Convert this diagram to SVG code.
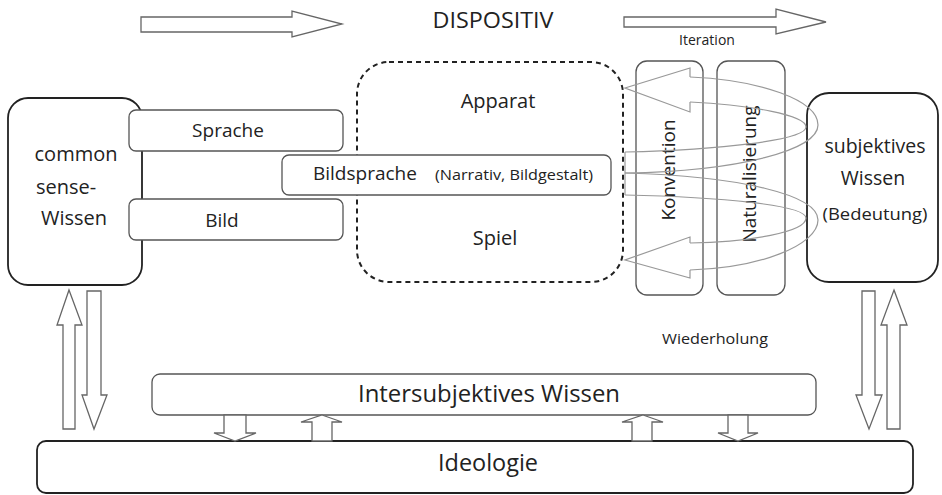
<svg xmlns="http://www.w3.org/2000/svg" width="942" height="495" viewBox="0 0 942 495">
<style>
text{font-family:"Open Sans","Noto Sans","Liberation Sans",sans-serif;fill:#222}
.box{fill:#fff;stroke:#555;stroke-width:1.3}
.dark{fill:#fff;stroke:#222;stroke-width:1.8}
.blk{fill:#fff;stroke:#666;stroke-width:1.3}
.loop{fill:none;stroke:#999;stroke-width:1.2}
</style>
<rect width="942" height="495" fill="#fff"/>
<g id="connectors">
<polygon class="blk" points="141,17 292,17 292,11 342,24 292,37 292,32 141,32"/>
<polygon class="blk" points="624,17 776,17 776,9 826,22 776,34 776,27 624,27"/>
<polygon class="blk" points="69,290 82,325 75,325 75,429 63,429 63,325 57,325"/>
<polygon class="blk" points="87,291 101,291 101,395 107,395 94,429 82,395 87,395"/>
<polygon class="blk" points="862,291 875,291 875,395 882,395 869,429 856,395 862,395"/>
<polygon class="blk" points="894,290 907,325 900,325 900,429 887,429 887,325 881,325"/>
</g>
<g id="commonsense">
<rect class="dark" x="8" y="98" width="134" height="187" rx="20"/>
<text x="76" y="161" font-size="20" text-anchor="middle">common</text>
<text x="36" y="194" font-size="20">sense-</text>
<text x="74" y="225" font-size="20" text-anchor="middle">Wissen</text>
</g>
<g id="dispositiv-box">
<rect x="357" y="62" width="266" height="220" rx="32" fill="none" stroke="#222" stroke-width="2" stroke-dasharray="5,4"/>
<text x="498" y="108" font-size="20" text-anchor="middle">Apparat</text>
<text x="495" y="245" font-size="20" text-anchor="middle">Spiel</text>
</g>
<g id="sprache">
<rect class="box" x="129" y="110" width="214" height="41" rx="7"/>
<text x="228" y="137" font-size="19" text-anchor="middle">Sprache</text>
</g>
<g id="bild">
<rect class="box" x="129" y="199" width="214" height="41" rx="7"/>
<text x="222" y="227" font-size="19" text-anchor="middle">Bild</text>
</g>
<g id="bildsprache">
<rect class="box" x="282" y="155" width="329" height="40" rx="7"/>
<text x="313" y="180" font-size="19">Bildsprache</text>
<text x="435" y="180" font-size="15" textLength="158" lengthAdjust="spacingAndGlyphs">(Narrativ, Bildgestalt)</text>
</g>
<g id="konvention">
<rect class="box" x="636" y="61" width="67" height="234" rx="11"/>
<text transform="translate(675,170) rotate(-90)" font-size="19" text-anchor="middle">Konvention</text>
</g>
<g id="naturalisierung">
<rect class="box" x="717" y="61" width="68" height="234" rx="11"/>
<text transform="translate(756,174) rotate(-90)" font-size="19" text-anchor="middle">Naturalisierung</text>
</g>
<g id="subjektiv">
<rect class="dark" x="807" y="93" width="131" height="189" rx="22"/>
<text x="875" y="153" font-size="19.5" text-anchor="middle">subjektives</text>
<text x="873" y="185" font-size="19.5" text-anchor="middle">Wissen</text>
<text x="875" y="220" font-size="17" text-anchor="middle" textLength="105" lengthAdjust="spacingAndGlyphs">(Bedeutung)</text>
</g>
<g id="loops">
<path class="loop" d="M690,77 L690,68 L625,88 L690,112 L690,102"/>
<path class="loop" d="M690,243 L690,237 L625,260 L690,278 L690,270"/>
<path class="loop" d="M690,77 C760,80 818,100 818,125 C818,150 740,171 625,173"/>
<path class="loop" d="M690,102 C750,105 806,115 806,127 C806,140 720,150 625,152"/>
<path class="loop" d="M625,195 C720,197 806,205 806,218 C806,232 750,242 690,243"/>
<path class="loop" d="M625,173 C740,176 818,195 818,220 C818,245 760,268 690,270"/>
<path class="loop" d="M625,152 L625,195"/>
</g>
<g id="labels">
<text x="493" y="28" font-size="22.5" text-anchor="middle" textLength="121" lengthAdjust="spacingAndGlyphs">DISPOSITIV</text>
<text x="707" y="45" font-size="14" text-anchor="middle">Iteration</text>
<text x="715" y="344" font-size="15" text-anchor="middle" textLength="106" lengthAdjust="spacingAndGlyphs">Wiederholung</text>
</g>
<g id="intersubjektiv">
<rect class="box" x="152" y="374" width="664" height="41" rx="8"/>
<text x="489" y="402" font-size="24" text-anchor="middle" textLength="262" lengthAdjust="spacingAndGlyphs">Intersubjektives Wissen</text>
</g>
<g id="ideologie">
<rect class="dark" x="37" y="441" width="876" height="52" rx="9" stroke-width="1.5"/>
<text x="488" y="471" font-size="23" text-anchor="middle" textLength="100" lengthAdjust="spacingAndGlyphs">Ideologie</text>
</g>
<g id="small-arrows">
<polygon class="blk" points="224,415 246,415 246,433 256,433 235,441 214,433 224,433"/>
<polygon class="blk" points="322,415 342,422 332,422 332,441 312,441 312,422 301,422"/>
<polygon class="blk" points="643,415 663,422 652,422 652,441 632,441 632,422 622,422"/>
<polygon class="blk" points="728,415 748,415 748,433 758,433 738,441 718,433 728,433"/>
</g>
</svg>
